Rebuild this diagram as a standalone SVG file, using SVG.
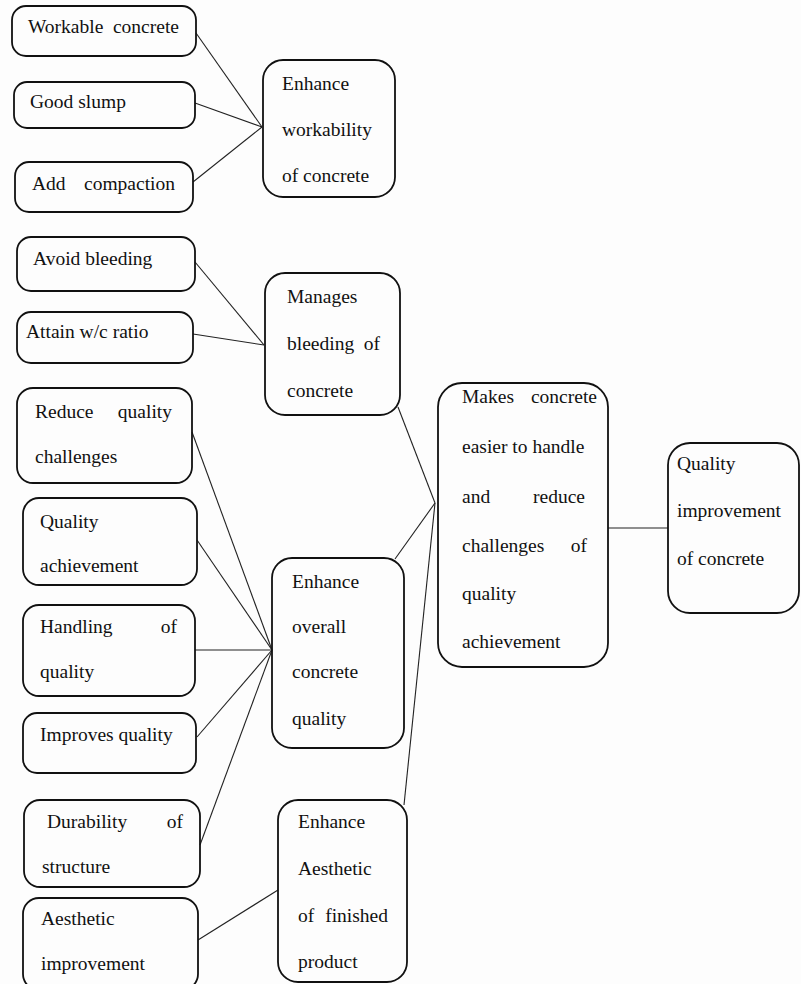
<svg xmlns="http://www.w3.org/2000/svg" width="801" height="984" viewBox="0 0 801 984">
<style>
.box{fill:none;stroke:#111;stroke-width:1.8}
.t{font-family:"Liberation Serif","Times New Roman",serif;font-size:19.5px;fill:#111}
.e{text-anchor:end}
#connectors line{stroke:#222;stroke-width:1.1}
</style>
<rect width="801" height="984" fill="#fdfdfd"/>
<g id="connectors">
<line x1="196" y1="33" x2="262" y2="127"/>
<line x1="195" y1="103" x2="262" y2="127"/>
<line x1="193" y1="182" x2="262" y2="127"/>
<line x1="195" y1="262" x2="264" y2="345"/>
<line x1="193" y1="334" x2="264" y2="345"/>
<line x1="192" y1="432" x2="272" y2="650"/>
<line x1="197" y1="540" x2="272" y2="650"/>
<line x1="195" y1="650" x2="272" y2="650"/>
<line x1="197" y1="737" x2="272" y2="650"/>
<line x1="200" y1="845" x2="272" y2="650"/>
<line x1="198" y1="940" x2="278" y2="890"/>
<line x1="398" y1="407" x2="435" y2="503"/>
<line x1="395" y1="559" x2="435" y2="503"/>
<line x1="404" y1="805" x2="435" y2="503"/>
<line x1="608" y1="528" x2="668" y2="528"/>
</g>
<g id="workable-concrete">
<rect class="box" x="12" y="6" width="184" height="50" rx="14"/>
<text class="t" x="28" y="33">Workable</text><text class="t e" x="179" y="33">concrete</text>
</g>
<g id="good-slump">
<rect class="box" x="14" y="82" width="181" height="46" rx="13"/>
<text class="t" x="30" y="108">Good slump</text>
</g>
<g id="add-compaction">
<rect class="box" x="15" y="162" width="178" height="50" rx="14"/>
<text class="t" x="32" y="190">Add</text><text class="t e" x="175" y="190">compaction</text>
</g>
<g id="enhance-workability">
<rect class="box" x="263" y="60" width="132" height="137" rx="20"/>
<text class="t" x="282" y="90">Enhance</text>
<text class="t" x="282" y="136">workability</text>
<text class="t" x="282" y="182">of concrete</text>
</g>
<g id="avoid-bleeding">
<rect class="box" x="17" y="237" width="178" height="54" rx="14"/>
<text class="t" x="33" y="265">Avoid bleeding</text>
</g>
<g id="attain-wc-ratio">
<rect class="box" x="17" y="312" width="176" height="51" rx="14"/>
<text class="t" x="26" y="338">Attain w/c ratio</text>
</g>
<g id="manages-bleeding">
<rect class="box" x="265" y="273" width="135" height="142" rx="20"/>
<text class="t" x="287" y="303">Manages</text>
<text class="t" x="287" y="350">bleeding</text><text class="t e" x="380" y="350">of</text>
<text class="t" x="287" y="397">concrete</text>
</g>
<g id="reduce-quality-challenges">
<rect class="box" x="17" y="388" width="175" height="95" rx="16"/>
<text class="t" x="35" y="418">Reduce</text><text class="t e" x="172" y="418">quality</text>
<text class="t" x="35" y="463">challenges</text>
</g>
<g id="quality-achievement">
<rect class="box" x="23" y="498" width="174" height="87" rx="16"/>
<text class="t" x="40" y="528">Quality</text>
<text class="t" x="40" y="572">achievement</text>
</g>
<g id="handling-of-quality">
<rect class="box" x="23" y="605" width="172" height="91" rx="16"/>
<text class="t" x="40" y="633">Handling</text><text class="t e" x="177" y="633">of</text>
<text class="t" x="40" y="678">quality</text>
</g>
<g id="improves-quality">
<rect class="box" x="23" y="713" width="173" height="60" rx="14"/>
<text class="t" x="40" y="741">Improves quality</text>
</g>
<g id="enhance-overall-quality">
<rect class="box" x="272" y="558" width="132" height="190" rx="20"/>
<text class="t" x="292" y="588">Enhance</text>
<text class="t" x="292" y="633">overall</text>
<text class="t" x="292" y="678">concrete</text>
<text class="t" x="292" y="725">quality</text>
</g>
<g id="durability-of-structure">
<rect class="box" x="24" y="800" width="176" height="87" rx="16"/>
<text class="t" x="47" y="828">Durability</text><text class="t e" x="183" y="828">of</text>
<text class="t" x="42" y="873">structure</text>
</g>
<g id="aesthetic-improvement">
<rect class="box" x="23" y="898" width="175" height="92" rx="16"/>
<text class="t" x="41" y="925">Aesthetic</text>
<text class="t" x="41" y="970">improvement</text>
</g>
<g id="enhance-aesthetic">
<rect class="box" x="278" y="800" width="129" height="182" rx="20"/>
<text class="t" x="298" y="828">Enhance</text>
<text class="t" x="298" y="875">Aesthetic</text>
<text class="t" x="298" y="922">of</text><text class="t e" x="388" y="922">finished</text>
<text class="t" x="298" y="968">product</text>
</g>
<g id="makes-concrete-easier">
<rect class="box" x="438" y="383" width="170" height="284" rx="24"/>
<text class="t" x="462" y="403">Makes</text><text class="t e" x="597" y="403">concrete</text>
<text class="t" x="462" y="453">easier to handle</text>
<text class="t" x="462" y="503">and</text><text class="t e" x="585" y="503">reduce</text>
<text class="t" x="462" y="552">challenges</text><text class="t e" x="587" y="552">of</text>
<text class="t" x="462" y="600">quality</text>
<text class="t" x="462" y="648">achievement</text>
</g>
<g id="quality-improvement">
<rect class="box" x="668" y="443" width="131" height="170" rx="22"/>
<text class="t" x="677" y="470">Quality</text>
<text class="t" x="677" y="517">improvement</text>
<text class="t" x="677" y="565">of concrete</text>
</g>
</svg>
